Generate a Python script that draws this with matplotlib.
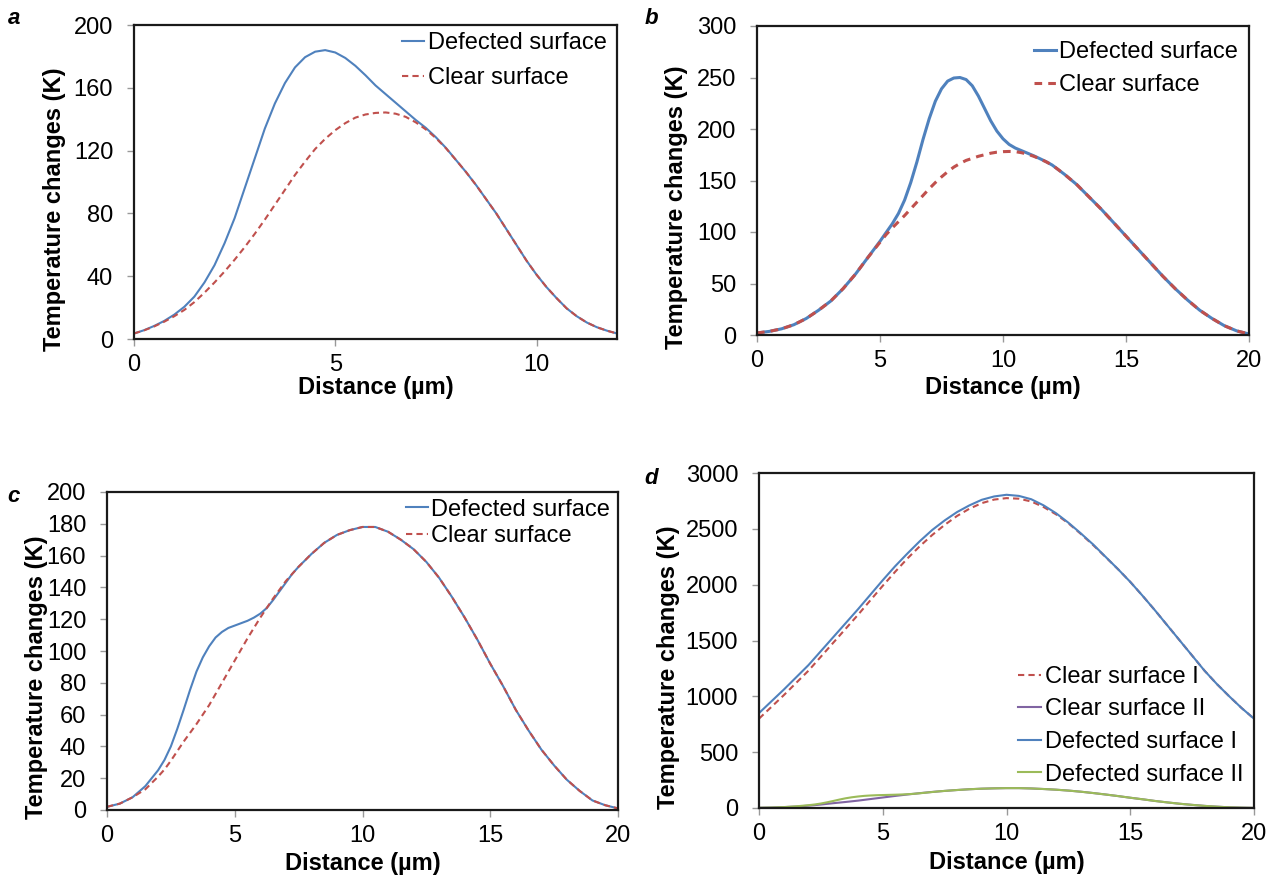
import numpy as np
import matplotlib
matplotlib.use('Agg')
import matplotlib.pyplot as plt

plt.rcParams['font.family'] = ['Liberation Sans', 'DejaVu Sans']

BLUE = '#4f81bd'
RED = '#c0504d'
PURPLE = '#8064a2'
GREEN = '#9bbb59'

# panel a
a_x = np.arange(0, 12.01, 0.25)
a_defected = [3.5, 5.6, 8.3, 11.5, 15.5, 20.5, 27, 36, 47, 61, 77, 96, 115, 134, 150, 163,
              173, 179.5, 183, 184, 182.5, 179, 174, 168, 161.5, 156, 150.5, 145, 139.5,
              134.5, 128.5, 121.7, 114, 106.3, 98, 89, 80, 70, 60, 50, 41, 33, 26, 19.5,
              14.5, 10.5, 7.5, 5.3, 3.5]
a_clear = [3.5, 5.5, 8, 11, 14.5, 18.5, 23.5, 29.5, 36, 43, 50.5, 58.5, 67, 76, 85.5, 95,
           104.5, 113, 121, 127.5, 133, 137.5, 141, 143, 144, 144.3, 143.5, 141.5, 138,
           133.5, 128, 121.5, 114, 106.3, 98, 89, 80, 70, 60, 50, 41, 33, 26, 19.5,
           14.5, 10.5, 7.5, 5.3, 3.5]

# panel b
b_x = ([0, 0.5, 1, 1.5, 2, 2.5, 3, 3.5, 4, 4.5]
       + list(np.arange(5, 11.9, 0.25))
       + list(np.arange(12, 20.01, 0.5)))
b_defected = [2, 3.5, 6, 10, 16, 24, 33, 45, 59, 75,
              91, 99.5, 108, 118, 131, 148, 168, 190, 210, 227, 239, 246.5, 249.5, 250, 248,
              242, 232, 220, 208, 198, 190.5, 185, 181.5, 179, 176.5, 174, 171.2, 168.3,
              165, 156, 146, 134, 122, 109, 96, 83, 70, 57, 45, 34, 24, 16, 9, 4, 1]
b_clear = [2, 3.5, 6, 10, 16, 24, 33, 45, 59, 75,
           90, 97.5, 104, 110, 116, 122.5, 129, 135.5, 142, 148, 153.5, 158.5, 163, 166.5,
           169.5, 171.5, 173.5, 175, 176.5, 177.5, 178, 178.2, 178, 177, 175.5, 173.5, 171,
           168.2, 165, 156, 146, 134, 122, 109, 96, 83, 70, 57, 45, 34, 24, 16, 9, 4, 1]

# panel c
c_x = ([0, 0.5, 1, 1.5]
       + list(np.arange(2, 7.9, 0.25))
       + list(np.arange(8, 20.01, 0.5)))
c_defected = [2, 4, 8, 15,
              25, 31.5, 40, 51, 63, 75.5, 87, 96, 103, 108.5, 112, 114.5, 116, 117.5, 119,
              121, 123.5, 127, 132, 137.5, 143, 148.5, 153, 157,
              161, 168, 173, 176, 178, 178, 175, 170, 164, 156, 146, 134, 121, 107, 92, 78,
              63, 50, 38, 28, 19, 12, 6, 3, 1]
c_clear = [2, 4, 8, 13,
           21, 25.5, 31, 37, 43, 48.5, 54, 60, 66, 73, 80, 87, 94, 101, 108, 114.5, 121,
           127, 133, 138.5, 144, 148.5, 153, 157,
           161, 168, 173, 176, 178, 178, 175, 170, 164, 156, 146, 134, 121, 107, 92, 78,
           63, 50, 38, 28, 19, 12, 6, 3, 1]

# panel d
d_x = np.arange(0, 20.01, 0.5)
d_clear1 = [800, 905, 1010, 1120, 1230, 1355, 1480, 1605, 1730, 1860, 1990, 2115, 2235,
            2345, 2445, 2535, 2615, 2680, 2730, 2762, 2775, 2770, 2745, 2695, 2630, 2550,
            2455, 2355, 2248, 2140, 2025, 1900, 1770, 1635, 1500, 1365, 1230, 1110, 1000,
            895, 800]
d_defected1 = [850, 955, 1060, 1170, 1280, 1405, 1530, 1655, 1780, 1910, 2040, 2165, 2280,
               2390, 2490, 2575, 2650, 2710, 2760, 2790, 2805, 2795, 2765, 2710, 2640, 2555,
               2460, 2360, 2250, 2140, 2025, 1900, 1770, 1635, 1500, 1365, 1230, 1110, 1000,
               895, 800]
d_clear2 = c_clear
d_defected2 = c_defected

FS = 17


def style_axes(ax, xlim, xticks, ylim, yticks, xlab_y, ylab_x, ylab_y):
    ax.set_xlim(*xlim)
    ax.set_ylim(*ylim)
    ax.set_xticks(xticks)
    ax.set_yticks(yticks)
    for s in ax.spines.values():
        s.set_linewidth(1.6)
        s.set_color('#1a1a1a')
    ax.tick_params(axis='both', direction='out', length=5, width=1, color='#999999',
                   labelsize=FS)
    ax.tick_params(axis='y', pad=10)
    ax.tick_params(axis='x', pad=5.5)
    ax.set_xlabel('Distance (µm)', fontsize=FS, fontweight='bold', va='center')
    ax.set_ylabel('Temperature changes (K)', fontsize=FS, fontweight='bold', va='center')
    ax.xaxis.set_label_coords(0.5, xlab_y)
    ax.yaxis.set_label_coords(ylab_x, ylab_y)


def add_legend(ax, x, y, spacing, hl=0.93):
    ax.legend(loc='upper left', bbox_to_anchor=(x, y), frameon=False, fontsize=FS,
              borderpad=0, borderaxespad=0, labelspacing=spacing, handlelength=hl,
              handletextpad=0.15)


fig = plt.figure(figsize=(12.76, 8.77), dpi=100)
W, H = 1276, 877


def px_axes(left, top, right, bottom):
    return fig.add_axes([left / W, 1 - bottom / H, (right - left) / W, (bottom - top) / H])


ax_a = px_axes(134, 25, 617, 339)
ax_b = px_axes(757, 26, 1249, 335)
ax_c = px_axes(107, 492, 618, 810)
ax_d = px_axes(759, 473, 1254, 808)

# a
ax_a.plot(a_x, a_defected, color=BLUE, lw=1.5, label='Defected surface')
ax_a.plot(a_x, a_clear, color=RED, lw=1.5, dashes=(3, 2), label='Clear surface')
style_axes(ax_a, (0, 12), [0, 5, 10], (0, 200), np.arange(0, 201, 40), -0.156, -0.164, 0.414)
add_legend(ax_a, 0.555, 0.978, 0.57)

# b
ax_b.plot(b_x, b_defected, color=BLUE, lw=2.2, label='Defected surface')
ax_b.plot(b_x, b_clear, color=RED, lw=2.2, dashes=(2.5, 2), label='Clear surface')
style_axes(ax_b, (0, 20), [0, 5, 10, 15, 20], (0, 300), np.arange(0, 301, 50), -0.1715, -0.163, 0.414)
add_legend(ax_b, 0.563, 0.952, 0.49)

# c
ax_c.plot(c_x, c_defected, color=BLUE, lw=1.5, label='Defected surface')
ax_c.plot(c_x, c_clear, color=RED, lw=1.5, dashes=(3, 2), label='Clear surface')
style_axes(ax_c, (0, 20), [0, 5, 10, 15, 20], (0, 200), np.arange(0, 201, 20), -0.1667, -0.137, 0.418)
add_legend(ax_c, 0.585, 0.979, 0.2)

# d
ax_d.plot(d_x, d_clear1, color=RED, lw=1.5, dashes=(3, 2), label='Clear surface I')
ax_d.plot(c_x, d_clear2, color=PURPLE, lw=1.5, label='Clear surface II')
ax_d.plot(d_x, d_defected1, color=BLUE, lw=1.5, label='Defected surface I')
ax_d.plot(c_x, d_defected2, color=GREEN, lw=1.5, label='Defected surface II')
style_axes(ax_d, (0, 20), [0, 5, 10, 15, 20], (0, 3000), np.arange(0, 3001, 500), -0.164, -0.182, 0.421)
add_legend(ax_d, 0.523, 0.4245, 0.45, hl=1.0)

# panel letters
for lab, xp, yp in [('a', 14, 19), ('b', 651, 19), ('c', 14, 497), ('d', 651, 478)]:
    fig.text(xp / W, 1 - yp / H, lab, fontsize=16, fontweight='bold', fontstyle='italic',
             ha='center', va='center')

fig.savefig('out.png', dpi=100)
